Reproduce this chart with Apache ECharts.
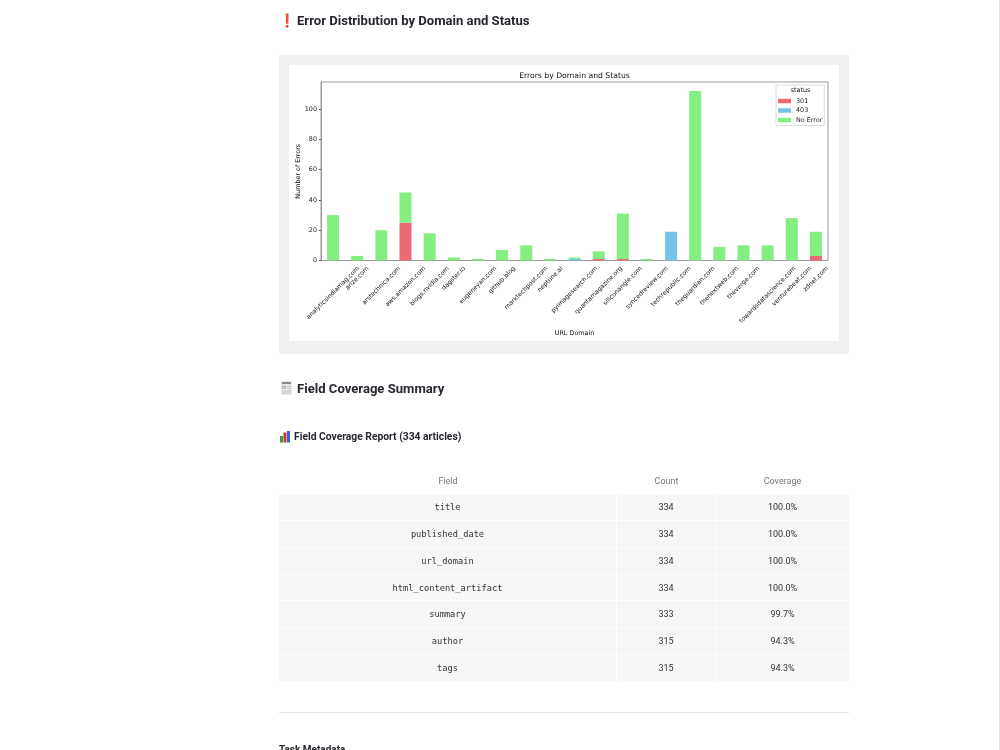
<!DOCTYPE html>
<html><head><meta charset="utf-8">
<script src="https://cdn.jsdelivr.net/npm/echarts@6/dist/echarts.min.js"></script>
<style>
html,body{margin:0;padding:0;background:#fff;overflow:hidden;width:1000px;height:750px}
body{position:relative;font-family:Roboto,sans-serif;color:#262730}
.abs{position:absolute;white-space:nowrap}
#panel{position:absolute;left:279px;top:55px;width:570px;height:299px;background:#f0f0f0;border-radius:2px}
#chart{position:absolute;left:289px;top:65px;width:550px;height:276px;background:#fff;filter:blur(.35px)}
table{position:absolute;left:279px;top:468px;width:570px;border-collapse:separate;border-spacing:0;table-layout:fixed;font-size:9px}
th{height:26px;font-weight:400;color:#777;text-align:center;padding:0}
td{height:25.87px;background:#f7f7f7;text-align:center;padding:0;border-bottom:1px solid #fff;color:#333;box-sizing:content-box}
tr:last-child td{border-bottom-color:#f7f7f7}
td:not(:last-child){border-right:1px solid #fff}
td.f{font-family:"DejaVu Sans Mono",monospace;font-size:8.7px;color:#333}
#rule{position:absolute;left:279px;top:712px;width:570px;height:1px;background:#e6e6e6}
#edge{position:absolute;left:999px;top:0;width:1px;height:750px;background:#e0e0e4}
.t{filter:blur(.25px)}
</style></head>
<body>
<div class="abs t" style="left:279px;top:13px;font-size:13.1px;font-weight:700;line-height:16px"><span style="color:#e81123;display:inline-block;width:18px">❗</span>Error Distribution by Domain and Status</div>
<div id="panel"></div><div id="chart"></div>
<svg class="abs t" style="left:280px;top:381px" width="12" height="15" viewBox="0 0 12 15"><rect x="1" y="0" width="11" height="14" fill="#e9e9e9"/><rect x="2" y="1" width="9" height="2" fill="#8a8a8a"/><rect x="2" y="4.5" width="4" height="3.5" fill="#bdbdbd"/><rect x="7" y="5" width="4" height="1" fill="#c4c4c4"/><rect x="7" y="7" width="4" height="1" fill="#c4c4c4"/><rect x="2" y="9.5" width="9" height="1" fill="#c4c4c4"/><rect x="2" y="11.5" width="9" height="1" fill="#c4c4c4"/></svg>
<div class="abs t" style="left:297px;top:380px;font-size:13.1px;font-weight:700;line-height:17px">Field Coverage Summary</div>
<svg class="abs t" style="left:279px;top:430px" width="13" height="13" viewBox="0 0 13 13"><rect x="1" y="6" width="3" height="6.5" fill="#2f9e44"/><rect x="4.5" y="2.5" width="3" height="10" fill="#d9342b"/><rect x="8" y="1" width="3" height="11.5" fill="#2b6cd4"/></svg>
<div class="abs t" style="left:294px;top:430px;font-size:10.3px;font-weight:700;line-height:14px">Field Coverage Report (334 articles)</div>
<table id="tbl" class="t"><colgroup><col style="width:338px"><col style="width:99px"><col style="width:133px"></colgroup><thead><tr><th>Field</th><th>Count</th><th>Coverage</th></tr></thead><tbody id="tb"></tbody></table>
<div id="rule"></div>
<div class="abs t" style="left:279px;top:743px;font-size:10px;font-weight:700;line-height:13px">Task Metadata</div>
<div id="edge"></div>
<script>
const categories = ["analyticsindiamag.com","arize.com","arstechnica.com","aws.amazon.com","blogs.nvidia.com","dagster.io","eugeneyan.com","github.blog","marktechpost.com","neptune.ai","pyimagesearch.com","quantamagazine.org","siliconangle.com","syncedreview.com","techrepublic.com","theguardian.com","thenextweb.com","theverge.com","towardsdatascience.com","venturebeat.com","zdnet.com"];
const status301 = [0,0,0,25,0,0,0,0,0,0,0,1,1,0,0,0,0,0,0,0,3];
const status403 = [0,0,0,0,0,0,0,0,0,0,1,0,0,0,19,0,0,0,0,0,0];
const statusNoError = [30,3,20,20,18,2,1,7,10,1,1,5,30,1,0,112,9,10,10,28,16];
const yTicks = [0,20,40,60,80,100];
const fields = ["title","published_date","url_domain","html_content_artifact","summary","author","tags"];
const counts = [334,334,334,334,333,315,315];
const coverage = ["100.0%","100.0%","100.0%","100.0%","99.7%","94.3%","94.3%"];

document.getElementById('tb').innerHTML = fields.map((f,i)=>`<tr><td class="f">${f}</td><td>${counts[i]}</td><td>${coverage[i]}</td></tr>`).join('');

const FONT = '"DejaVu Sans"', LBL = 6.2;
const mctx = document.createElement('canvas').getContext('2d');
mctx.font = LBL + 'px ' + FONT;
const chart = echarts.init(document.getElementById('chart'), null, {renderer:'canvas'});
const bar = (name,data,color)=>({name,type:'bar',stack:'s',data,barWidth:12,itemStyle:{color},emphasis:{disabled:true}});
chart.setOption({
  animation:false,
  textStyle:{fontFamily:FONT},
  title:[
    {text:'Errors by Domain and Status',left:285.5,top:7,textAlign:'center',padding:0,textStyle:{fontSize:7.7,fontWeight:'normal',color:'#111',fontFamily:FONT}},
    {text:'status',left:511.5,top:22.5,textAlign:'center',padding:0,z:20,textStyle:{fontSize:6.4,fontWeight:'normal',color:'#111',fontFamily:FONT}}
  ],
  legend:{orient:'vertical',left:487,top:20,padding:[13,2,2.5,2],itemWidth:13,itemHeight:4.5,itemGap:3.5,icon:'rect',backgroundColor:'#fff',borderColor:'#ddd',borderWidth:1,selectedMode:false,
    textStyle:{fontSize:6.4,color:'#222',fontFamily:FONT},data:['301','403','No Error']},
  grid:{left:32,top:17,width:507,height:178.5,outerBoundsMode:'none',containLabel:false,show:true,borderColor:'#999',borderWidth:1,backgroundColor:'transparent'},
  xAxis:{type:'category',data:categories,name:'URL Domain',nameLocation:'middle',nameGap:70,nameTextStyle:{fontSize:6.4,color:'#111',fontFamily:FONT},
    axisLine:{lineStyle:{color:'#999'}},axisTick:{length:2,alignWithLabel:true,lineStyle:{color:'#333'}},axisLabel:{show:false},splitLine:{show:false}},
  yAxis:{type:'value',min:0,max:118,name:'Number of Errors',nameLocation:'middle',nameGap:20,nameMoveOverlap:false,nameTextStyle:{fontSize:6.4,color:'#111',fontFamily:FONT},
    axisLine:{show:true,lineStyle:{color:'#999'}},axisTick:{show:true,length:2,customValues:yTicks,lineStyle:{color:'#555'}},
    axisLabel:{customValues:yTicks,fontSize:6.4,color:'#222',margin:4,fontFamily:FONT},splitLine:{show:false}},
  series:[
    bar('301',status301,'#ec6b72'),
    bar('403',status403,'#75c4e8'),
    bar('No Error',statusNoError,'#84ef80'),
    {type:'custom',silent:true,clip:false,legendHoverLink:false,data:categories.map((c,i)=>[c,0]),encode:{x:0,y:1},z:10,
     renderItem:(p,api)=>{
       const name=categories[p.dataIndex], pt=api.coord([p.dataIndex,0]);
       const h=(mctx.measureText(name).width+LBL)*Math.SQRT1_2;
       return {type:'text',x:pt[0],y:pt[1]+5+h/2,rotation:Math.PI/4,
         style:{text:name,fill:'#111',font:LBL+'px '+FONT,textAlign:'center',textVerticalAlign:'middle'}};
     }}
  ]
});
</script>
</body></html>
